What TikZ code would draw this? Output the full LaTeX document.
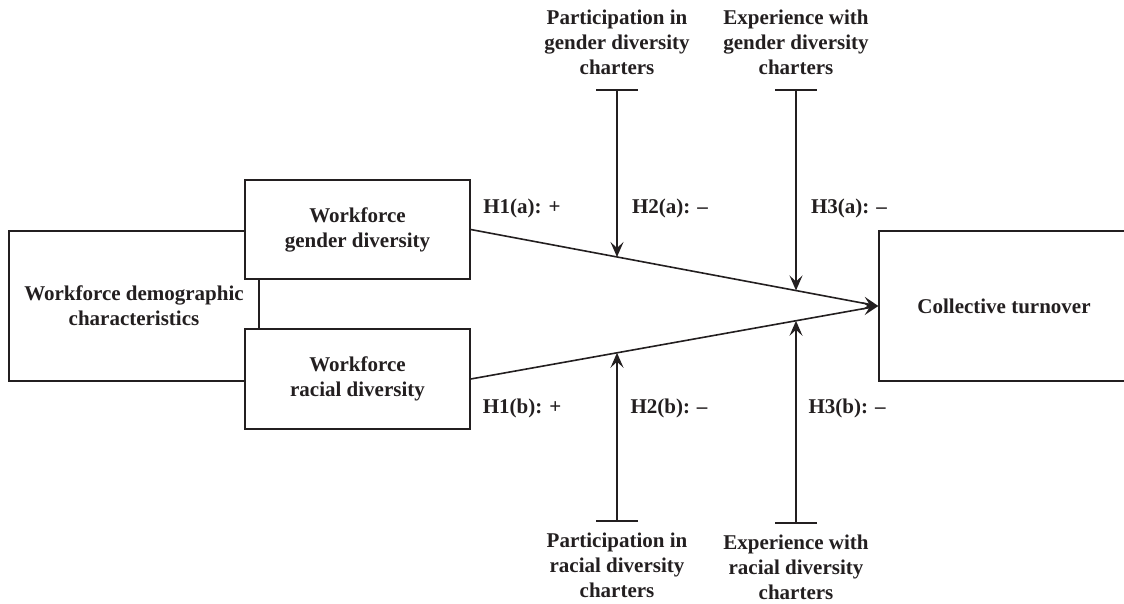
\documentclass[tikz,border=0pt]{standalone}
\usepackage{fontspec}
\setmainfont{Liberation Serif}
\usepackage{xcolor}
\usetikzlibrary{arrows.meta,positioning}
\definecolor{figureline}{RGB}{35,31,32}

\begin{document}
\begin{tikzpicture}[
    x=1pt, y=-1pt,
    font=\fontsize{21}{25}\selectfont\bfseries,
    box/.style={draw=figureline, fill=white, line width=1.4pt, align=center,
      inner sep=0pt, text=figureline},
    arrow/.style={-{Stealth[length=15pt, width=13pt, inset=6pt]}, draw=figureline, line width=1.6pt},
    teearrow/.style={{Bar[width=42pt, line width=2.2pt]}-{Stealth[length=15pt, width=13pt, inset=6pt]},
      draw=figureline, line width=1.6pt},
    modtext/.style={align=center, inner sep=0pt, text=figureline},
    hyp/.style={inner sep=0pt, text=figureline}
  ]
    \useasboundingbox (0,0) rectangle (1124,603);
    \node[box, minimum width=250pt, minimum height=150pt] (demo) at (134,306) {Workforce demographic\\characteristics};
    \node[box, minimum width=225pt, minimum height=99pt] (gender) at (357.5,229.5) {Workforce\\gender diversity};
    \node[box, minimum width=225pt, minimum height=100pt] (racial) at (357.5,379) {Workforce\\racial diversity};
    \node[box, minimum width=250pt, minimum height=150pt] (turnover) at (1004,306) {Collective turnover};
    % moderators
    \coordinate (pgtee) at (617,89);
    \coordinate (egtee) at (796,89);
    \coordinate (prtee) at (617,522);
    \coordinate (ertee) at (796,524);
    \node[modtext, above=14pt of pgtee] (pgtext) {Participation in\\gender diversity\\charters};
    \node[modtext, above=14pt of egtee] (egtext) {Experience with\\gender diversity\\charters};
    \node[modtext, below=11pt of prtee] (prtext) {Participation in\\racial diversity\\charters};
    \node[modtext, below=11pt of ertee] (ertext) {Experience with\\racial diversity\\charters};
    % main paths
    \draw[arrow] (gender.east) -- (turnover.west);
    \draw[arrow] (racial.east) -- (turnover.west);
    \path (gender.east) -- (turnover.west) coordinate[pos=0.3594] (g1) coordinate[pos=0.7971] (g2);
    \path (racial.east) -- (turnover.west) coordinate[pos=0.3594] (r1) coordinate[pos=0.7971] (r2);
    \draw[teearrow] (pgtee) -- (pgtee |- g1);
    \draw[teearrow] (egtee) -- (egtee |- g2);
    \draw[teearrow] (prtee) -- (prtee |- r1);
    \draw[teearrow] (ertee) -- (ertee |- r2);
    % hypotheses
    \node[hyp] (h1a) at (522,208) {H1(a): +};
    \node[hyp] (h2a) at (670,208) {H2(a): –};
    \node[hyp] (h3a) at (849,208) {H3(a): –};
    \node[hyp] (h1b) at (522,408) {H1(b): +};
    \node[hyp] (h2b) at (669,408) {H2(b): –};
    \node[hyp] (h3b) at (847,408) {H3(b): –};
  \end{tikzpicture}
\end{document}
